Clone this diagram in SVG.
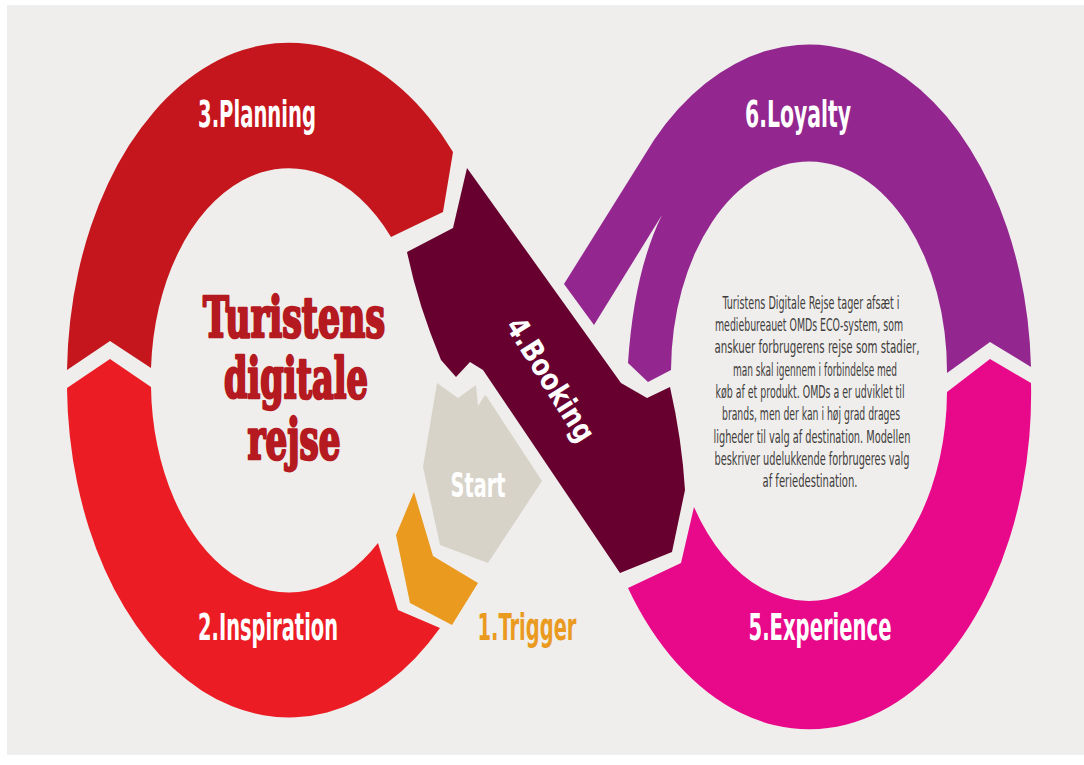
<svg xmlns="http://www.w3.org/2000/svg" width="1084" height="765" viewBox="0 0 1084 765">
  <style>
    .lbl { font-family: "Liberation Sans Narrow", "DejaVu Sans Condensed", "Liberation Sans", Arial, sans-serif; font-weight: bold; fill: #ffffff; text-anchor: middle; }
    .title { font-family: "DejaVu Serif Condensed", "DejaVu Serif", "Liberation Serif", serif; font-weight: bold; fill: #b51a21; stroke: #b51a21; stroke-width: 2.6px; stroke-linejoin: round; text-anchor: middle; font-size: 56px; }
    .body { font-family: "Liberation Sans Narrow", "DejaVu Sans Condensed", "Liberation Sans", Arial, sans-serif; fill: #3f3d3c; text-anchor: middle; font-size: 17px; }
  </style>

  <!-- backdrop -->
  <rect x="0" y="0" width="1084" height="765" fill="#ffffff"/>
  <rect x="7" y="5" width="1077" height="750" fill="#efeeec"/>

  <!-- left loop -->
  <g id="planning">
    <path d="M 67,370 A 222 335 0 0 1 453,152 L 443,212 L 391,237 A 138 210 0 0 0 151,368 L 110,341 Z" fill="#c5161d"/>
    <text class="lbl" x="257" y="127" font-size="38" textLength="118" lengthAdjust="spacingAndGlyphs">3.Planning</text>
  </g>
  <g id="inspiration">
    <path d="M 67,388 L 110,359 L 151,387 A 138 210 0 0 0 378,543 L 398,610 L 440,628 A 222 335 0 0 1 67,388 Z" fill="#ec1c24"/>
    <text class="lbl" x="268" y="640" font-size="38" textLength="140" lengthAdjust="spacingAndGlyphs">2.Inspiration</text>
  </g>
  <g id="trigger">
    <path d="M 414,492 L 396,535 L 410,603 L 452,625 L 478,583 L 433,556 Z" fill="#ea9a1f"/>
    <text class="lbl" x="527" y="640" font-size="38" style="fill:#ea9a1f" textLength="99" lengthAdjust="spacingAndGlyphs">1.Trigger</text>
  </g>
  <g id="start">
    <path d="M 437,383 L 458,398 L 476,385 L 478,406 L 485,395 L 487,397 L 542,481 L 488,563 L 440,545 L 423,467 Z" fill="#d8d3c9"/>
    <text class="lbl" x="478" y="497" font-size="34" textLength="55" lengthAdjust="spacingAndGlyphs">Start</text>
  </g>

  <!-- right loop -->
  <g id="loyalty">
    <path d="M 1031,367 L 990,342 L 947,373 A 138 210 0 0 0 671,370 L 648,382 L 628,363 Q 634,272 662,215 L 594,325 L 564,284 L 654,140 A 222 335 0 0 1 1031,367 Z" fill="#93278f"/>
    <text class="lbl" x="798" y="127" font-size="38" textLength="106" lengthAdjust="spacingAndGlyphs">6.Loyalty</text>
  </g>
  <g id="experience">
    <path d="M 1031,383 L 990,359 L 947,392 A 138 210 0 0 1 694,507 L 681,563 L 628,588 A 222 335 0 0 0 1031,383 Z" fill="#e8088a"/>
    <text class="lbl" x="820" y="640" font-size="38" textLength="143" lengthAdjust="spacingAndGlyphs">5.Experience</text>
  </g>

  <!-- diagonal crossing band -->
  <g id="booking">
    <path d="M 467,168 L 621,383 L 647,398 L 670,387 Q 682,440 685,490 L 672,552 L 620,573 L 483,370 L 470,362 L 456,377 L 441,360 Q 418,305 407,252 L 453,228 Z" fill="#67002f"/>
    <text class="lbl" x="0" y="0" font-size="30" textLength="140" lengthAdjust="spacingAndGlyphs" transform="translate(542,385) rotate(58)">4.Booking</text>
  </g>

  <!-- centre captions -->
  <g id="title">
    <text class="title" x="294" y="337" textLength="182" lengthAdjust="spacingAndGlyphs">Turistens</text>
    <text class="title" x="296" y="398" textLength="144" lengthAdjust="spacingAndGlyphs">digitale</text>
    <text class="title" x="294" y="459" textLength="93" lengthAdjust="spacingAndGlyphs">rejse</text>
  </g>
  <g id="description">
    <text class="body" x="811" y="309" textLength="177" lengthAdjust="spacingAndGlyphs">Turistens Digitale Rejse tager afsæt i</text>
    <text class="body" x="809" y="331" textLength="188" lengthAdjust="spacingAndGlyphs">mediebureauet OMDs ECO-system, som</text>
    <text class="body" x="817" y="353" textLength="205" lengthAdjust="spacingAndGlyphs">anskuer forbrugerens rejse som stadier,</text>
    <text class="body" x="815" y="376" textLength="164" lengthAdjust="spacingAndGlyphs">man skal igennem i forbindelse med</text>
    <text class="body" x="810" y="398" textLength="189" lengthAdjust="spacingAndGlyphs">køb af et produkt. OMDs a er udviklet til</text>
    <text class="body" x="811" y="420" textLength="178" lengthAdjust="spacingAndGlyphs">brands, men der kan i høj grad drages</text>
    <text class="body" x="812" y="443" textLength="197" lengthAdjust="spacingAndGlyphs">ligheder til valg af destination. Modellen</text>
    <text class="body" x="812" y="465" textLength="195" lengthAdjust="spacingAndGlyphs">beskriver udelukkende forbrugeres valg</text>
    <text class="body" x="810" y="487" textLength="95" lengthAdjust="spacingAndGlyphs">af feriedestination.</text>
  </g>
</svg>
